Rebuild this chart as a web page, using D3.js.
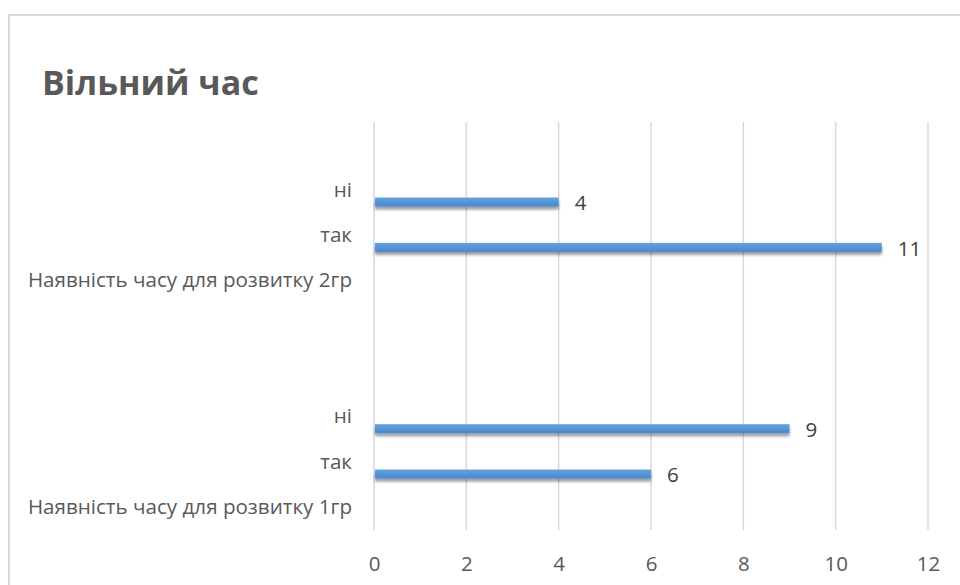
<!DOCTYPE html>
<html><head><meta charset="utf-8">
<script src="https://cdn.jsdelivr.net/npm/d3@7"></script>
<style>body{margin:0;background:#fff}svg{display:block}</style>
</head><body>
<script>
const title = "Вільний час";
const categories = ["Наявність часу для розвитку 1гр","так","ні","","  ","Наявність часу для розвитку 2гр","так ","ні ","   "];
const values = [null,6,9,null,null,null,11,4,null];
const xTicks = [0,2,4,6,8,10,12];

const W=960,H=585;
const svg=d3.select("body").append("svg").attr("width",W).attr("height",H);
const font="'Open Sans', sans-serif";
svg.append("rect").attr("x",9).attr("y",15).attr("width",W+20).attr("height",H+20)
  .attr("fill","#fff").attr("stroke","#d9d9d9").attr("stroke-width",2);

const defs=svg.append("defs");
const g1=defs.append("linearGradient").attr("id","bg").attr("x1",0).attr("y1",0).attr("x2",0).attr("y2",1);
g1.append("stop").attr("offset","0%").attr("stop-color","#64a3dd");
g1.append("stop").attr("offset","100%").attr("stop-color","#4787cf");
const f=defs.append("filter").attr("id","sh").attr("x","-5%").attr("y","-50%").attr("width","110%").attr("height","250%");
f.append("feDropShadow").attr("dx",0).attr("dy",3).attr("stdDeviation",1.8).attr("flood-color","#000").attr("flood-opacity",0.4);

svg.append("text").attr("x",42).attr("y",95).text(title)
  .attr("font-family",font).attr("font-weight","bold").attr("font-size",34).attr("fill","#595959");

const x=d3.scaleLinear().domain([0,12]).range([374,928]);
const y=d3.scaleBand().domain(categories.slice().reverse()).range([122,530]);
const bw=y.bandwidth();

svg.append("g").selectAll("line").data(xTicks).join("line")
  .attr("x1",d=>x(d)).attr("x2",d=>x(d)).attr("y1",122).attr("y2",530)
  .attr("stroke","#d9d9d9").attr("stroke-width",1.5);

const xAxis=svg.append("g").attr("transform","translate(0,530)")
  .call(d3.axisBottom(x).tickValues(xTicks).tickSize(0).tickPadding(26));
xAxis.select(".domain").remove();
xAxis.selectAll("text").attr("font-family",font).attr("font-size",20.5).attr("fill","#595959");

const yAxis=svg.append("g").attr("transform","translate(374,0)")
  .call(d3.axisLeft(y).tickSize(0).tickPadding(22));
yAxis.select(".domain").remove();
yAxis.selectAll("text").attr("font-family",font).attr("font-size",20.6).attr("fill","#595959");

const data=categories.map((c,i)=>({c,v:values[i]})).filter(d=>d.v!=null);
const off=bw*0.265, bh=9;
svg.append("g").selectAll("rect").data(data).join("rect")
  .attr("x",x(0)+1).attr("y",d=>y(d.c)+bw/2+off-bh/2)
  .attr("width",d=>x(d.v)-x(0)-1).attr("height",bh)
  .attr("fill","url(#bg)").attr("filter","url(#sh)");
svg.append("g").selectAll("text").data(data).join("text")
  .attr("x",d=>x(d.v)+16).attr("y",d=>y(d.c)+bw/2+off+1).attr("dy","0.35em")
  .text(d=>d.v).attr("font-family",font).attr("font-size",20.5).attr("fill","#404040");
</script>
</body></html>
